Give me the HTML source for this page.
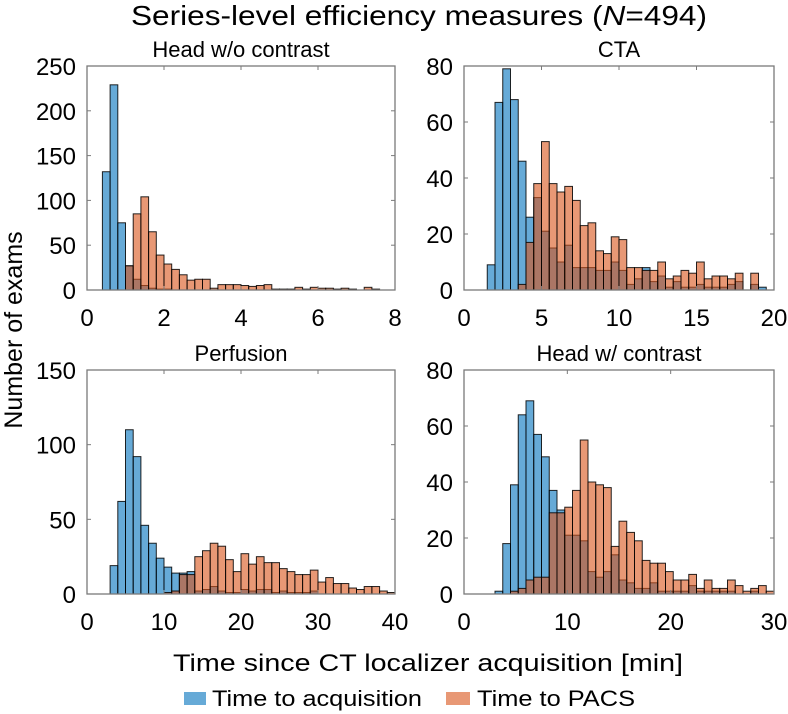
<!DOCTYPE html>
<html><head><meta charset="utf-8">
<style>
html,body{margin:0;padding:0;background:#fff;}
svg{display:block;font-family:"Liberation Sans",Arial,sans-serif;}
</style></head>
<body>
<svg id="chart" width="788" height="714" viewBox="0 0 788 714" xmlns="http://www.w3.org/2000/svg">
<text x="419" y="25" font-size="28" text-anchor="middle" textLength="576" lengthAdjust="spacingAndGlyphs">Series-level efficiency measures (<tspan font-style="italic">N</tspan>=494)</text>
<text transform="translate(22,330) rotate(-90)" font-size="25" text-anchor="middle">Number of exams</text>
<text x="428" y="671" font-size="24" text-anchor="middle" textLength="510" lengthAdjust="spacingAndGlyphs">Time since CT localizer acquisition [min]</text>
<g>
<rect x="184" y="692" width="22" height="13" fill="rgb(0,114,189)" fill-opacity="0.6"/>
<text x="212" y="706" font-size="22" textLength="210" lengthAdjust="spacingAndGlyphs">Time to acquisition</text>
<rect x="446" y="692" width="24" height="13" fill="rgb(217,83,25)" fill-opacity="0.6"/>
<text x="477" y="706" font-size="22" textLength="158" lengthAdjust="spacingAndGlyphs">Time to PACS</text>
</g>
</svg>
<script>
// Panel 1: Head w/o contrast (bins 0.2 from 0.4)
const p1Start = 0.4, p1Bin = 0.2;
const p1Acq = [132,229,75,27,12,5,2,1,1,0,0,0,0,0,0,0,0,0,0,0,0,0,0,0,0,0,0,0,0,0,0,0,0,0,0,0];
const p1Pacs = [0,0,0,27,85,104,65,39,29,23,17,11,12,12,2,6,6,6,5,4,5,6,1,1,1,3,1,3,2,2,1,2,1,0,3,1];
const p1XTicks = [0,2,4,6,8];
const p1YTicks = [0,50,100,150,200,250];
// Panel 2: CTA (bins 0.5 from 1.5)
const p2Start = 1.5, p2Bin = 0.5;
const p2Acq = [9,67,79,68,46,26,33,21,15,10,16,8,8,8,7,7,10,7,2,4,8,3,5,1,3,1,1,2,1,1,1,2,3,0,2,1];
const p2Pacs = [0,0,0,0,2,17,38,53,38,35,37,32,23,24,14,13,19,18,8,8,7,7,10,4,5,7,6,10,4,5,5,4,6,0,6,0];
const p2XTicks = [0,5,10,15,20];
const p2YTicks = [0,20,40,60,80];
// Panel 3: Perfusion (bins 1 from 3)
const p3Start = 3, p3Bin = 1;
const p3Acq = [19,62,110,92,46,34,24,18,14,14,15,2,3,5,2,1,1,3,2,3,3,1,2,1,1,1,2,0,0,0,0,0,0,0,0,0,0];
const p3Pacs = [0,0,0,0,0,0,0,1,2,13,13,25,29,34,32,23,15,27,20,25,21,21,17,15,13,13,16,8,11,7,7,4,3,5,5,2,1];
const p3XTicks = [0,10,20,30,40];
const p3YTicks = [0,50,100,150];
// Panel 4: Head w/ contrast (bins 0.75 from 3)
const p4Start = 3, p4Bin = 0.75;
const p4Acq = [1,18,39,64,69,57,49,37,30,21,21,19,8,6,8,14,5,4,2,2,4,1,1,1,1,3,1,1,1,1,1,0,0,1,0,0];
const p4Pacs = [0,0,1,2,5,6,6,29,29,31,37,55,40,39,38,17,26,22,19,12,11,11,8,5,5,7,2,5,2,2,5,3,1,2,3,1];
const p4XTicks = [0,10,20,30];
const p4YTicks = [0,20,40,60,80];

const NS = "http://www.w3.org/2000/svg";
const svg = document.getElementById('chart');
function mk(tag, attrs, parent){
  const e = document.createElementNS(NS, tag);
  for (const k in attrs) e.setAttribute(k, attrs[k]);
  (parent||svg).appendChild(e);
  return e;
}
function panel(cfg){
  const g = mk('g', {});
  
  
  const xmax = cfg.xt[cfg.xt.length-1], ymax = cfg.yt[cfg.yt.length-1];
  const xs = v => cfg.x0 + (v / xmax) * (cfg.x1 - cfg.x0);
  const ys = v => cfg.y1 - (v / ymax) * (cfg.y1 - cfg.y0);
  const series = [[cfg.acq,'rgb(0,114,189)','acq'],[cfg.pacs,'rgb(217,83,25)','pacs']];
  series.forEach(([arr,col,key]) => {
    arr.forEach((v,i) => {
      if (v <= 0) return;
      const a = cfg.start + i*cfg.bin, b = a + cfg.bin;
      const r = mk('rect', {x: xs(a), y: ys(v), width: xs(b)-xs(a), height: ys(0)-ys(v),
        fill: col, 'fill-opacity': 0.6, stroke: '#000', 'stroke-width': 1, 'stroke-opacity': 0.85}, g);
      
      
    });
  });
  const box = mk('rect', {x: cfg.x0, y: cfg.y0, width: cfg.x1-cfg.x0, height: cfg.y1-cfg.y0,
    fill: 'none', stroke: '#7a7a7a', 'stroke-width': 1.3}, g);
  
  
  cfg.xt.forEach(t => {
    const x = xs(t);
    mk('line', {x1:x, x2:x, y1:cfg.y1, y2:cfg.y1-4, stroke:'#7a7a7a'}, g);
    mk('line', {x1:x, x2:x, y1:cfg.y0, y2:cfg.y0+4, stroke:'#7a7a7a'}, g);
    const tx = mk('text', {x:x, y:cfg.y1+36, 'font-size':24, 'text-anchor':'middle'}, g);
    tx.textContent = t;
    
    
  });
  cfg.yt.forEach(t => {
    const y = ys(t);
    mk('line', {x1:cfg.x0, x2:cfg.x0+4, y1:y, y2:y, stroke:'#7a7a7a'}, g);
    mk('line', {x1:cfg.x1, x2:cfg.x1-4, y1:y, y2:y, stroke:'#7a7a7a'}, g);
    const ty = mk('text', {x:cfg.x0-11, y:y+9, 'font-size':24, 'text-anchor':'end'}, g);
    ty.textContent = t;
    
    
  });
  const tt = mk('text', {x:(cfg.x0+cfg.x1)/2, y:cfg.y0-9, 'font-size':22, 'text-anchor':'middle'}, g);
  tt.textContent = cfg.title;
  
  
}
panel({name:'panel-head-wo-contrast', title:'Head w/o contrast', x0:87, x1:395, y0:66, y1:290, start:p1Start, bin:p1Bin, acq:p1Acq, pacs:p1Pacs, xt:p1XTicks, yt:p1YTicks});
panel({name:'panel-cta', title:'CTA', x0:464, x1:774, y0:66, y1:290, start:p2Start, bin:p2Bin, acq:p2Acq, pacs:p2Pacs, xt:p2XTicks, yt:p2YTicks});
panel({name:'panel-perfusion', title:'Perfusion', x0:87, x1:395, y0:370, y1:594, start:p3Start, bin:p3Bin, acq:p3Acq, pacs:p3Pacs, xt:p3XTicks, yt:p3YTicks});
panel({name:'panel-head-w-contrast', title:'Head w/ contrast', x0:464, x1:774, y0:370, y1:594, start:p4Start, bin:p4Bin, acq:p4Acq, pacs:p4Pacs, xt:p4XTicks, yt:p4YTicks});
</script>
</body></html>
